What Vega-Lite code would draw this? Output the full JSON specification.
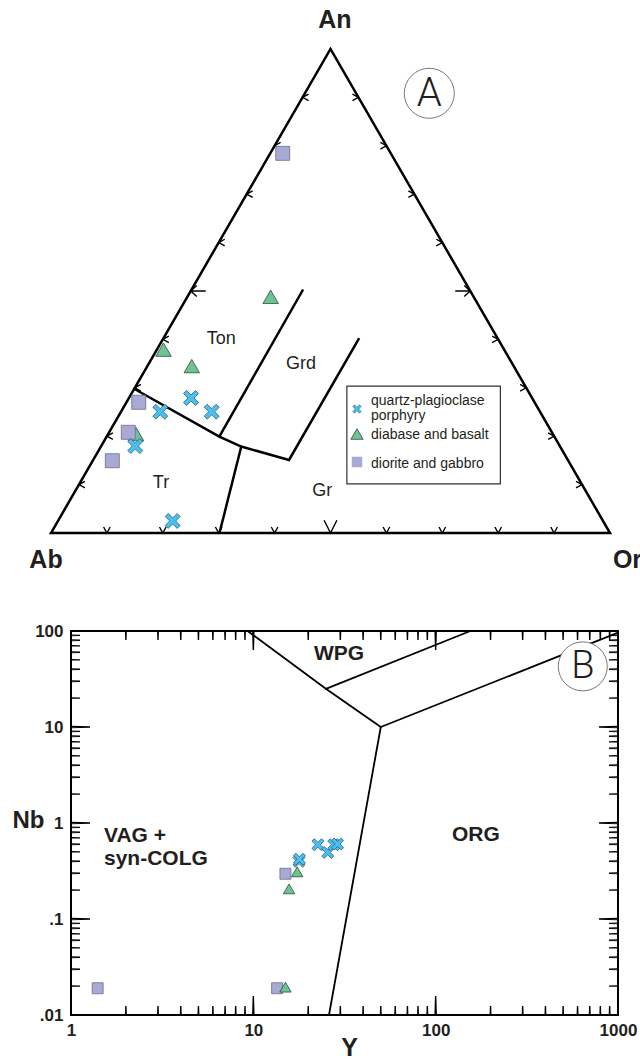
{
  "$schema": "https://vega.github.io/schema/vega-lite/v6.json",
  "autosize": {"type": "pad"},
  "padding": {"left": 11, "top": 0, "right": 0, "bottom": 0},
  "bounds": "flush",
  "spacing": 56,
  "config": {"font": "Liberation Sans", "view": {"stroke": null}},
  "datasets": {
    "frame_A": [{"x": 0, "y": 0, "i": 1}, {"x": 0.5, "y": 0.866, "i": 2}, {"x": 1, "y": 0, "i": 3}],
    "bnd_A": [
      {"path": "a", "i": 1, "x": 0.1494, "y": 0.2576}, {"path": "a", "i": 2, "x": 0.3011, "y": 0.1726},
      {"path": "a", "i": 3, "x": 0.3404, "y": 0.1547}, {"path": "a", "i": 4, "x": 0.4258, "y": 0.1306},
      {"path": "a", "i": 5, "x": 0.5513, "y": 0.3488},
      {"path": "b", "i": 1, "x": 0.3011, "y": 0.1726}, {"path": "b", "i": 2, "x": 0.451, "y": 0.4356},
      {"path": "c", "i": 1, "x": 0.3404, "y": 0.1547}, {"path": "c", "i": 2, "x": 0.3014, "y": 0}
    ],
    "ticks_A": [
      {"x": 0.1, "y": 0, "edge": "base", "major": false}, {"x": 0.2, "y": 0, "edge": "base", "major": false},
      {"x": 0.3, "y": 0, "edge": "base", "major": false}, {"x": 0.4, "y": 0, "edge": "base", "major": false},
      {"x": 0.5, "y": 0, "edge": "base", "major": true}, {"x": 0.6, "y": 0, "edge": "base", "major": false},
      {"x": 0.7, "y": 0, "edge": "base", "major": false}, {"x": 0.8, "y": 0, "edge": "base", "major": false},
      {"x": 0.9, "y": 0, "edge": "base", "major": false},
      {"x": 0.05, "y": 0.0866, "edge": "left", "major": false}, {"x": 0.1, "y": 0.1732, "edge": "left", "major": false},
      {"x": 0.15, "y": 0.2598, "edge": "left", "major": false}, {"x": 0.2, "y": 0.3464, "edge": "left", "major": false},
      {"x": 0.25, "y": 0.433, "edge": "left", "major": true}, {"x": 0.3, "y": 0.5196, "edge": "left", "major": false},
      {"x": 0.35, "y": 0.6062, "edge": "left", "major": false}, {"x": 0.4, "y": 0.6928, "edge": "left", "major": false},
      {"x": 0.45, "y": 0.7794, "edge": "left", "major": false},
      {"x": 0.95, "y": 0.0866, "edge": "right", "major": false}, {"x": 0.9, "y": 0.1732, "edge": "right", "major": false},
      {"x": 0.85, "y": 0.2598, "edge": "right", "major": false}, {"x": 0.8, "y": 0.3464, "edge": "right", "major": false},
      {"x": 0.75, "y": 0.433, "edge": "right", "major": true}, {"x": 0.7, "y": 0.5196, "edge": "right", "major": false},
      {"x": 0.65, "y": 0.6062, "edge": "right", "major": false}, {"x": 0.6, "y": 0.6928, "edge": "right", "major": false},
      {"x": 0.55, "y": 0.7794, "edge": "right", "major": false}
    ],
    "pts_A": [
      {"x": 0.393, "y": 0.4225, "rock": "diabase and basalt"}, {"x": 0.2013, "y": 0.328, "rock": "diabase and basalt"},
      {"x": 0.2518, "y": 0.2986, "rock": "diabase and basalt"}, {"x": 0.152, "y": 0.177, "rock": "diabase and basalt"},
      {"x": 0.4145, "y": 0.6792, "rock": "diorite and gabbro"}, {"x": 0.1569, "y": 0.2338, "rock": "diorite and gabbro"},
      {"x": 0.1383, "y": 0.1801, "rock": "diorite and gabbro"}, {"x": 0.1097, "y": 0.1293, "rock": "diorite and gabbro"},
      {"x": 0.2504, "y": 0.2415, "rock": "quartz-plagioclase porphyry"}, {"x": 0.1955, "y": 0.217, "rock": "quartz-plagioclase porphyry"},
      {"x": 0.2875, "y": 0.217, "rock": "quartz-plagioclase porphyry"}, {"x": 0.1508, "y": 0.1556, "rock": "quartz-plagioclase porphyry"},
      {"x": 0.2177, "y": 0.0215, "rock": "quartz-plagioclase porphyry"}
    ],
    "leg_box": [{"x": 0.5293, "y": 0.2626, "x2": 0.8039, "y2": 0.0878}],
    "leg_sym": [
      {"x": 0.5474, "y": 0.2218, "rock": "quartz-plagioclase porphyry"},
      {"x": 0.5474, "y": 0.1771, "rock": "diabase and basalt"},
      {"x": 0.5474, "y": 0.127, "rock": "diorite and gabbro"}
    ],
    "leg_txt": [
      {"x": 0.5725, "y": 0.237, "t": "quartz-plagioclase"}, {"x": 0.5725, "y": 0.2102, "t": "porphyry"},
      {"x": 0.5725, "y": 0.1753, "t": "diabase and basalt"}, {"x": 0.5725, "y": 0.1243, "t": "diorite and gabbro"}
    ],
    "reg_A": [
      {"x": 0.3045, "y": 0.3474, "t": "Ton"}, {"x": 0.4472, "y": 0.3018, "t": "Grd"},
      {"x": 0.1968, "y": 0.09, "t": "Tr"}, {"x": 0.4853, "y": 0.0748, "t": "Gr"}
    ],
    "vert_A": [
      {"x": 0.508, "y": 0.9034, "t": "An"}, {"x": -0.0089, "y": -0.0626, "t": "Ab"}, {"x": 1.0313, "y": -0.0626, "t": "Or"}
    ],
    "circ_A": [{"x": 0.6767, "y": 0.7866, "t": "A"}],
    "bnd_B": [
      {"x": 9.3, "y": 100, "x2": 25, "y2": 25}, {"x": 25, "y": 25, "x2": 50, "y2": 10},
      {"x": 25, "y": 25, "x2": 155, "y2": 100}, {"x": 50, "y": 10, "x2": 1000, "y2": 96},
      {"x": 50, "y": 10, "x2": 26, "y2": 0.01}
    ],
    "pts_B": [
      {"Y": 1.4, "Nb": 0.019, "rock": "diorite and gabbro"}, {"Y": 13.5, "Nb": 0.019, "rock": "diorite and gabbro"},
      {"Y": 15.0, "Nb": 0.296, "rock": "diorite and gabbro"},
      {"Y": 15.0, "Nb": 0.0195, "rock": "diabase and basalt"}, {"Y": 15.7, "Nb": 0.206, "rock": "diabase and basalt"},
      {"Y": 17.4, "Nb": 0.31, "rock": "diabase and basalt"},
      {"Y": 17.8, "Nb": 0.4, "rock": "quartz-plagioclase porphyry"}, {"Y": 17.9, "Nb": 0.42, "rock": "quartz-plagioclase porphyry"},
      {"Y": 22.6, "Nb": 0.594, "rock": "quartz-plagioclase porphyry"}, {"Y": 25.6, "Nb": 0.494, "rock": "quartz-plagioclase porphyry"},
      {"Y": 27.6, "Nb": 0.594, "rock": "quartz-plagioclase porphyry"}, {"Y": 29.0, "Nb": 0.604, "rock": "quartz-plagioclase porphyry"}
    ],
    "txtc_B": [{"Y": 29.5, "Nb": 50.2, "t": "WPG"}, {"Y": 166, "Nb": 0.648, "t": "ORG"}],
    "txtl_B": [{"Y": 1.517, "Nb": 0.638, "t": "VAG +"}, {"Y": 1.517, "Nb": 0.369, "t": "syn-COLG"}],
    "circ_B": [{"Y": 641, "Nb": 42.8, "t": "B"}]
  },
  "vconcat": [
    {
      "width": 547,
      "height": 575,
      "layer": [
        {
          "data": {"name": "frame_A"},
          "mark": {"type": "line", "interpolate": "linear-closed", "stroke": "black", "strokeWidth": 2.5, "strokeJoin": "miter"},
          "encoding": {
            "x": {"field": "x", "type": "quantitative", "scale": {"domain": [0.03578, 1.01431], "nice": false, "zero": false}, "axis": null},
            "y": {"field": "y", "type": "quantitative", "scale": {"domain": [-0.07513, 0.95349], "nice": false, "zero": false}, "axis": null},
            "order": {"field": "i"}
          }
        },
        {
          "data": {"name": "bnd_A"},
          "mark": {"type": "line", "stroke": "black", "strokeWidth": 2.5, "strokeJoin": "miter"},
          "encoding": {
            "x": {"field": "x", "type": "quantitative", "scale": {"domain": [0.03578, 1.01431], "nice": false, "zero": false}, "axis": null},
            "y": {"field": "y", "type": "quantitative", "scale": {"domain": [-0.07513, 0.95349], "nice": false, "zero": false}, "axis": null},
            "detail": {"field": "path"},
            "order": {"field": "i"}
          }
        },
        {
          "data": {"name": "ticks_A"},
          "transform": [{"filter": "datum.edge == 'base' && !datum.major"}],
          "mark": {"type": "point", "shape": "M-0.55,-1L0,0L0.55,-1", "size": 144, "angle": 0, "filled": false, "stroke": "black", "strokeWidth": 1.4, "opacity": 1},
          "encoding": {
            "x": {"field": "x", "type": "quantitative", "scale": {"domain": [0.03578, 1.01431], "nice": false, "zero": false}, "axis": null},
            "y": {"field": "y", "type": "quantitative", "scale": {"domain": [-0.07513, 0.95349], "nice": false, "zero": false}, "axis": null}
          }
        },
        {
          "data": {"name": "ticks_A"},
          "transform": [{"filter": "datum.edge == 'base' && datum.major"}],
          "mark": {"type": "point", "shape": "M-0.5,-1L0,0L0.5,-1", "size": 655, "angle": 0, "filled": false, "stroke": "black", "strokeWidth": 1.4, "opacity": 1},
          "encoding": {
            "x": {"field": "x", "type": "quantitative", "scale": {"domain": [0.03578, 1.01431], "nice": false, "zero": false}, "axis": null},
            "y": {"field": "y", "type": "quantitative", "scale": {"domain": [-0.07513, 0.95349], "nice": false, "zero": false}, "axis": null}
          }
        },
        {
          "data": {"name": "ticks_A"},
          "transform": [{"filter": "datum.edge == 'left' && !datum.major"}],
          "mark": {"type": "point", "shape": "M-0.55,-1L0,0L0.55,-1", "size": 144, "angle": 90, "filled": false, "stroke": "black", "strokeWidth": 1.4, "opacity": 1},
          "encoding": {
            "x": {"field": "x", "type": "quantitative", "scale": {"domain": [0.03578, 1.01431], "nice": false, "zero": false}, "axis": null},
            "y": {"field": "y", "type": "quantitative", "scale": {"domain": [-0.07513, 0.95349], "nice": false, "zero": false}, "axis": null}
          }
        },
        {
          "data": {"name": "ticks_A"},
          "transform": [{"filter": "datum.edge == 'left' && datum.major"}],
          "mark": {"type": "point", "shape": "M-0.37,-0.4L0,0L0.37,-0.4M0,0L0,-1", "size": 900, "angle": 90, "filled": false, "stroke": "black", "strokeWidth": 1.4, "opacity": 1},
          "encoding": {
            "x": {"field": "x", "type": "quantitative", "scale": {"domain": [0.03578, 1.01431], "nice": false, "zero": false}, "axis": null},
            "y": {"field": "y", "type": "quantitative", "scale": {"domain": [-0.07513, 0.95349], "nice": false, "zero": false}, "axis": null}
          }
        },
        {
          "data": {"name": "ticks_A"},
          "transform": [{"filter": "datum.edge == 'right' && !datum.major"}],
          "mark": {"type": "point", "shape": "M-0.55,-1L0,0L0.55,-1", "size": 144, "angle": 270, "filled": false, "stroke": "black", "strokeWidth": 1.4, "opacity": 1},
          "encoding": {
            "x": {"field": "x", "type": "quantitative", "scale": {"domain": [0.03578, 1.01431], "nice": false, "zero": false}, "axis": null},
            "y": {"field": "y", "type": "quantitative", "scale": {"domain": [-0.07513, 0.95349], "nice": false, "zero": false}, "axis": null}
          }
        },
        {
          "data": {"name": "ticks_A"},
          "transform": [{"filter": "datum.edge == 'right' && datum.major"}],
          "mark": {"type": "point", "shape": "M-0.37,-0.4L0,0L0.37,-0.4M0,0L0,-1", "size": 900, "angle": 270, "filled": false, "stroke": "black", "strokeWidth": 1.4, "opacity": 1},
          "encoding": {
            "x": {"field": "x", "type": "quantitative", "scale": {"domain": [0.03578, 1.01431], "nice": false, "zero": false}, "axis": null},
            "y": {"field": "y", "type": "quantitative", "scale": {"domain": [-0.07513, 0.95349], "nice": false, "zero": false}, "axis": null}
          }
        },
        {
          "data": {"name": "reg_A"},
          "mark": {"type": "text", "fontSize": 18, "align": "center", "baseline": "middle", "color": "#231f20"},
          "encoding": {
            "x": {"field": "x", "type": "quantitative", "scale": {"domain": [0.03578, 1.01431], "nice": false, "zero": false}, "axis": null},
            "y": {"field": "y", "type": "quantitative", "scale": {"domain": [-0.07513, 0.95349], "nice": false, "zero": false}, "axis": null},
            "text": {"field": "t"}
          }
        },
        {
          "data": {"name": "vert_A"},
          "mark": {"type": "text", "fontSize": 25, "fontWeight": "bold", "align": "center", "baseline": "alphabetic", "color": "#231f20"},
          "encoding": {
            "x": {"field": "x", "type": "quantitative", "scale": {"domain": [0.03578, 1.01431], "nice": false, "zero": false}, "axis": null},
            "y": {"field": "y", "type": "quantitative", "scale": {"domain": [-0.07513, 0.95349], "nice": false, "zero": false}, "axis": null},
            "text": {"field": "t"}
          }
        },
        {
          "data": {"name": "circ_A"},
          "mark": {"type": "point", "shape": "circle", "size": 2500, "filled": true, "fill": "white", "stroke": "#555555", "strokeWidth": 0.8, "opacity": 1},
          "encoding": {
            "x": {"field": "x", "type": "quantitative", "scale": {"domain": [0.03578, 1.01431], "nice": false, "zero": false}, "axis": null},
            "y": {"field": "y", "type": "quantitative", "scale": {"domain": [-0.07513, 0.95349], "nice": false, "zero": false}, "axis": null}
          }
        },
        {
          "data": {"name": "circ_A"},
          "mark": {"type": "text", "font": "Roboto", "fontWeight": 300, "fontSize": 40, "align": "center", "baseline": "middle", "dy": 1, "color": "#231f20"},
          "encoding": {
            "x": {"field": "x", "type": "quantitative", "scale": {"domain": [0.03578, 1.01431], "nice": false, "zero": false}, "axis": null},
            "y": {"field": "y", "type": "quantitative", "scale": {"domain": [-0.07513, 0.95349], "nice": false, "zero": false}, "axis": null},
            "text": {"field": "t"}
          }
        },
        {
          "data": {"name": "pts_A"},
          "transform": [{"filter": "datum.rock == 'diabase and basalt'"}],
          "mark": {"type": "point", "shape": "triangle-up", "size": 240, "filled": true, "fill": "#6dc393", "stroke": "#2e4d3a", "strokeWidth": 0.8, "opacity": 1},
          "encoding": {
            "x": {"field": "x", "type": "quantitative", "scale": {"domain": [0.03578, 1.01431], "nice": false, "zero": false}, "axis": null},
            "y": {"field": "y", "type": "quantitative", "scale": {"domain": [-0.07513, 0.95349], "nice": false, "zero": false}, "axis": null}
          }
        },
        {
          "data": {"name": "pts_A"},
          "transform": [{"filter": "datum.rock == 'diorite and gabbro'"}],
          "mark": {"type": "point", "shape": "square", "size": 196, "filled": true, "fill": "#a9a9d5", "stroke": "#6d6d8a", "strokeWidth": 0.8, "opacity": 1},
          "encoding": {
            "x": {"field": "x", "type": "quantitative", "scale": {"domain": [0.03578, 1.01431], "nice": false, "zero": false}, "axis": null},
            "y": {"field": "y", "type": "quantitative", "scale": {"domain": [-0.07513, 0.95349], "nice": false, "zero": false}, "axis": null}
          }
        },
        {
          "data": {"name": "pts_A"},
          "transform": [{"filter": "datum.rock == 'quartz-plagioclase porphyry'"}],
          "mark": {"type": "point", "shape": "M-1,-0.6L-0.6,-1L0,-0.4L0.6,-1L1,-0.6L0.4,0L1,0.6L0.6,1L0,0.4L-0.6,1L-1,0.6L-0.4,0Z", "size": 225, "filled": true, "fill": "#4dbfec", "stroke": "#2b5f80", "strokeWidth": 0.8, "opacity": 1},
          "encoding": {
            "x": {"field": "x", "type": "quantitative", "scale": {"domain": [0.03578, 1.01431], "nice": false, "zero": false}, "axis": null},
            "y": {"field": "y", "type": "quantitative", "scale": {"domain": [-0.07513, 0.95349], "nice": false, "zero": false}, "axis": null}
          }
        },
        {
          "data": {"name": "leg_box"},
          "mark": {"type": "rect", "fill": "white", "stroke": "#333333", "strokeWidth": 1.2},
          "encoding": {
            "x": {"field": "x", "type": "quantitative", "scale": {"domain": [0.03578, 1.01431], "nice": false, "zero": false}, "axis": null},
            "y": {"field": "y", "type": "quantitative", "scale": {"domain": [-0.07513, 0.95349], "nice": false, "zero": false}, "axis": null},
            "x2": {"field": "x2"},
            "y2": {"field": "y2"}
          }
        },
        {
          "data": {"name": "leg_sym"},
          "transform": [{"filter": "datum.rock == 'quartz-plagioclase porphyry'"}],
          "mark": {"type": "point", "shape": "M-1,-0.6L-0.6,-1L0,-0.4L0.6,-1L1,-0.6L0.4,0L1,0.6L0.6,1L0,0.4L-0.6,1L-1,0.6L-0.4,0Z", "size": 70, "filled": true, "fill": "#4dbfec", "stroke": "#2b5f80", "strokeWidth": 0.6, "opacity": 1},
          "encoding": {
            "x": {"field": "x", "type": "quantitative", "scale": {"domain": [0.03578, 1.01431], "nice": false, "zero": false}, "axis": null},
            "y": {"field": "y", "type": "quantitative", "scale": {"domain": [-0.07513, 0.95349], "nice": false, "zero": false}, "axis": null}
          }
        },
        {
          "data": {"name": "leg_sym"},
          "transform": [{"filter": "datum.rock == 'diabase and basalt'"}],
          "mark": {"type": "point", "shape": "triangle-up", "size": 150, "filled": true, "fill": "#6dc393", "stroke": "#2e4d3a", "strokeWidth": 0.8, "opacity": 1},
          "encoding": {
            "x": {"field": "x", "type": "quantitative", "scale": {"domain": [0.03578, 1.01431], "nice": false, "zero": false}, "axis": null},
            "y": {"field": "y", "type": "quantitative", "scale": {"domain": [-0.07513, 0.95349], "nice": false, "zero": false}, "axis": null}
          }
        },
        {
          "data": {"name": "leg_sym"},
          "transform": [{"filter": "datum.rock == 'diorite and gabbro'"}],
          "mark": {"type": "point", "shape": "square", "size": 100, "filled": true, "fill": "#a9a9d5", "stroke": "#a9a9d5", "strokeWidth": 0.5, "opacity": 1},
          "encoding": {
            "x": {"field": "x", "type": "quantitative", "scale": {"domain": [0.03578, 1.01431], "nice": false, "zero": false}, "axis": null},
            "y": {"field": "y", "type": "quantitative", "scale": {"domain": [-0.07513, 0.95349], "nice": false, "zero": false}, "axis": null}
          }
        },
        {
          "data": {"name": "leg_txt"},
          "mark": {"type": "text", "fontSize": 14, "align": "left", "baseline": "middle", "color": "#231f20"},
          "encoding": {
            "x": {"field": "x", "type": "quantitative", "scale": {"domain": [0.03578, 1.01431], "nice": false, "zero": false}, "axis": null},
            "y": {"field": "y", "type": "quantitative", "scale": {"domain": [-0.07513, 0.95349], "nice": false, "zero": false}, "axis": null},
            "text": {"field": "t"}
          }
        }
      ]
    },
    {
      "width": 547,
      "height": 384,
      "view": {"stroke": "black", "strokeWidth": 2},
      "resolve": {"axis": {"x": "independent", "y": "independent"}},
      "layer": [
        {
          "data": {"name": "bnd_B"},
          "mark": {"type": "rule", "stroke": "black", "strokeWidth": 1.8, "strokeCap": "round"},
          "encoding": {
            "x": {"field": "x", "type": "quantitative", "scale": {"type": "log", "domain": [1, 1000], "nice": false}, "axis": null},
            "y": {"field": "y", "type": "quantitative", "scale": {"type": "log", "domain": [0.01, 100], "nice": false}, "axis": null},
            "x2": {"field": "x2"},
            "y2": {"field": "y2"}
          }
        },
        {
          "data": {"name": "pts_B"},
          "transform": [{"filter": "datum.rock == 'diorite and gabbro'"}],
          "mark": {"type": "point", "shape": "square", "size": 121, "filled": true, "fill": "#a9a9d5", "stroke": "#6d6d8a", "strokeWidth": 0.8, "opacity": 1},
          "encoding": {
            "x": {"field": "Y", "type": "quantitative", "scale": {"type": "log", "domain": [1, 1000], "nice": false}, "axis": null},
            "y": {"field": "Nb", "type": "quantitative", "scale": {"type": "log", "domain": [0.01, 100], "nice": false}, "axis": null}
          }
        },
        {
          "data": {"name": "pts_B"},
          "transform": [{"filter": "datum.rock == 'diabase and basalt'"}],
          "mark": {"type": "point", "shape": "triangle-up", "size": 130, "filled": true, "fill": "#6dc393", "stroke": "#2e4d3a", "strokeWidth": 0.8, "opacity": 1},
          "encoding": {
            "x": {"field": "Y", "type": "quantitative", "scale": {"type": "log", "domain": [1, 1000], "nice": false}, "axis": null},
            "y": {"field": "Nb", "type": "quantitative", "scale": {"type": "log", "domain": [0.01, 100], "nice": false}, "axis": null}
          }
        },
        {
          "data": {"name": "pts_B"},
          "transform": [{"filter": "datum.rock == 'quartz-plagioclase porphyry'"}],
          "mark": {"type": "point", "shape": "M-1,-0.6L-0.6,-1L0,-0.4L0.6,-1L1,-0.6L0.4,0L1,0.6L0.6,1L0,0.4L-0.6,1L-1,0.6L-0.4,0Z", "size": 144, "filled": true, "fill": "#4dbfec", "stroke": "#2b5f80", "strokeWidth": 0.8, "opacity": 1},
          "encoding": {
            "x": {"field": "Y", "type": "quantitative", "scale": {"type": "log", "domain": [1, 1000], "nice": false},
              "axis": {"orient": "bottom", "domain": false, "grid": false, "ticks": false,
                "values": [1, 10, 100, 1000],
                "labelExpr": "datum.value == 1 ? '1' : datum.value == 10 ? '10' : datum.value == 100 ? '100' : '1000'",
                "labelOverlap": false, "labelFlush": false,
                "labelFont": "Liberation Sans", "labelFontWeight": "bold", "labelFontSize": 17, "labelColor": "#231f20", "labelPadding": 7,
                "title": "Y", "titleFont": "Liberation Sans", "titleFontSize": 25, "titleFontWeight": "bold", "titleColor": "#231f20",
                "titleX": 278, "titleY": 40, "titleBaseline": "alphabetic", "titleAlign": "center"}},
            "y": {"field": "Nb", "type": "quantitative", "scale": {"type": "log", "domain": [0.01, 100], "nice": false},
              "axis": {"orient": "left", "domain": false, "grid": false, "ticks": false,
                "values": [0.01, 0.1, 1, 10, 100],
                "labelExpr": "datum.value == 100 ? '100' : datum.value == 10 ? '10' : datum.value == 1 ? '1' : datum.value == 0.1 ? '.1' : '.01'",
                "labelOverlap": false, "labelFlush": false,
                "labelFont": "Liberation Sans", "labelFontWeight": "bold", "labelFontSize": 17, "labelColor": "#231f20", "labelPadding": 8,
                "title": "Nb", "titleFont": "Liberation Sans", "titleFontSize": 24, "titleFontWeight": "bold", "titleColor": "#231f20",
                "titleAngle": 0, "titleAlign": "right", "titleBaseline": "alphabetic", "titleX": -27, "titleY": 196}}
          }
        },
        {
          "data": {"name": "txtc_B"},
          "mark": {"type": "text", "fontSize": 21, "fontWeight": "bold", "align": "center", "baseline": "alphabetic", "color": "#231f20"},
          "encoding": {
            "x": {"field": "Y", "type": "quantitative", "scale": {"type": "log", "domain": [1, 1000], "nice": false}, "axis": null},
            "y": {"field": "Nb", "type": "quantitative", "scale": {"type": "log", "domain": [0.01, 100], "nice": false}, "axis": null},
            "text": {"field": "t"}
          }
        },
        {
          "data": {"name": "txtl_B"},
          "mark": {"type": "text", "fontSize": 21, "fontWeight": "bold", "align": "left", "baseline": "alphabetic", "color": "#231f20"},
          "encoding": {
            "x": {"field": "Y", "type": "quantitative", "scale": {"type": "log", "domain": [1, 1000], "nice": false}, "axis": null},
            "y": {"field": "Nb", "type": "quantitative", "scale": {"type": "log", "domain": [0.01, 100], "nice": false}, "axis": null},
            "text": {"field": "t"}
          }
        },
        {
          "data": {"name": "circ_B"},
          "mark": {"type": "point", "shape": "circle", "size": 2400, "filled": true, "fill": "white", "stroke": "#555555", "strokeWidth": 0.8, "opacity": 1},
          "encoding": {
            "x": {"field": "Y", "type": "quantitative", "scale": {"type": "log", "domain": [1, 1000], "nice": false}, "axis": null},
            "y": {"field": "Nb", "type": "quantitative", "scale": {"type": "log", "domain": [0.01, 100], "nice": false}, "axis": null}
          }
        },
        {
          "data": {"name": "circ_B"},
          "mark": {"type": "text", "font": "Roboto", "fontWeight": 300, "fontSize": 38, "align": "center", "baseline": "middle", "dy": 1, "color": "#231f20"},
          "encoding": {
            "x": {"field": "Y", "type": "quantitative", "scale": {"type": "log", "domain": [1, 1000], "nice": false}, "axis": null},
            "y": {"field": "Nb", "type": "quantitative", "scale": {"type": "log", "domain": [0.01, 100], "nice": false}, "axis": null},
            "text": {"field": "t"}
          }
        },
        {
          "data": {"values": [
            {"Y": 2, "Nb": 0.01}, {"Y": 3, "Nb": 0.01}, {"Y": 4, "Nb": 0.01}, {"Y": 5, "Nb": 0.01}, {"Y": 6, "Nb": 0.01},
            {"Y": 7, "Nb": 0.01}, {"Y": 8, "Nb": 0.01}, {"Y": 9, "Nb": 0.01}, {"Y": 20, "Nb": 0.01}, {"Y": 30, "Nb": 0.01},
            {"Y": 40, "Nb": 0.01}, {"Y": 50, "Nb": 0.01}, {"Y": 60, "Nb": 0.01}, {"Y": 70, "Nb": 0.01}, {"Y": 80, "Nb": 0.01},
            {"Y": 90, "Nb": 0.01}, {"Y": 200, "Nb": 0.01}, {"Y": 300, "Nb": 0.01}, {"Y": 400, "Nb": 0.01}, {"Y": 500, "Nb": 0.01},
            {"Y": 600, "Nb": 0.01}, {"Y": 700, "Nb": 0.01}, {"Y": 800, "Nb": 0.01}, {"Y": 900, "Nb": 0.01}
          ]},
          "mark": {"type": "point", "shape": "M-0.03,0L0,-1L0.03,0", "size": 324, "filled": false, "stroke": "black", "strokeWidth": 1.4, "opacity": 1},
          "encoding": {
            "x": {"field": "Y", "type": "quantitative", "scale": {"type": "log", "domain": [1, 1000], "nice": false}, "axis": null},
            "y": {"field": "Nb", "type": "quantitative", "scale": {"type": "log", "domain": [0.01, 100], "nice": false}, "axis": null}
          }
        },
        {
          "data": {"values": [{"Y": 10, "Nb": 0.01}, {"Y": 100, "Nb": 0.01}]},
          "mark": {"type": "point", "shape": "M-0.03,0L0,-1L0.03,0", "size": 1444, "filled": false, "stroke": "black", "strokeWidth": 1.4, "opacity": 1},
          "encoding": {
            "x": {"field": "Y", "type": "quantitative", "scale": {"type": "log", "domain": [1, 1000], "nice": false}, "axis": null},
            "y": {"field": "Nb", "type": "quantitative", "scale": {"type": "log", "domain": [0.01, 100], "nice": false}, "axis": null}
          }
        },
        {
          "data": {"values": [
            {"Y": 2, "Nb": 100}, {"Y": 3, "Nb": 100}, {"Y": 4, "Nb": 100}, {"Y": 5, "Nb": 100}, {"Y": 6, "Nb": 100},
            {"Y": 7, "Nb": 100}, {"Y": 8, "Nb": 100}, {"Y": 9, "Nb": 100}, {"Y": 20, "Nb": 100}, {"Y": 30, "Nb": 100},
            {"Y": 40, "Nb": 100}, {"Y": 50, "Nb": 100}, {"Y": 60, "Nb": 100}, {"Y": 70, "Nb": 100}, {"Y": 80, "Nb": 100},
            {"Y": 90, "Nb": 100}, {"Y": 200, "Nb": 100}, {"Y": 300, "Nb": 100}, {"Y": 400, "Nb": 100}, {"Y": 500, "Nb": 100},
            {"Y": 600, "Nb": 100}, {"Y": 700, "Nb": 100}, {"Y": 800, "Nb": 100}, {"Y": 900, "Nb": 100}
          ]},
          "mark": {"type": "point", "shape": "M-0.03,0L0,1L0.03,0", "size": 324, "filled": false, "stroke": "black", "strokeWidth": 1.4, "opacity": 1},
          "encoding": {
            "x": {"field": "Y", "type": "quantitative", "scale": {"type": "log", "domain": [1, 1000], "nice": false}, "axis": null},
            "y": {"field": "Nb", "type": "quantitative", "scale": {"type": "log", "domain": [0.01, 100], "nice": false}, "axis": null}
          }
        },
        {
          "data": {"values": [{"Y": 10, "Nb": 100}, {"Y": 100, "Nb": 100}]},
          "mark": {"type": "point", "shape": "M-0.03,0L0,1L0.03,0", "size": 1444, "filled": false, "stroke": "black", "strokeWidth": 1.4, "opacity": 1},
          "encoding": {
            "x": {"field": "Y", "type": "quantitative", "scale": {"type": "log", "domain": [1, 1000], "nice": false}, "axis": null},
            "y": {"field": "Nb", "type": "quantitative", "scale": {"type": "log", "domain": [0.01, 100], "nice": false}, "axis": null}
          }
        },
        {
          "data": {"values": [
            {"Y": 1, "Nb": 0.02}, {"Y": 1, "Nb": 0.03}, {"Y": 1, "Nb": 0.04}, {"Y": 1, "Nb": 0.05}, {"Y": 1, "Nb": 0.06},
            {"Y": 1, "Nb": 0.07}, {"Y": 1, "Nb": 0.08}, {"Y": 1, "Nb": 0.09}, {"Y": 1, "Nb": 0.2}, {"Y": 1, "Nb": 0.3},
            {"Y": 1, "Nb": 0.4}, {"Y": 1, "Nb": 0.5}, {"Y": 1, "Nb": 0.6}, {"Y": 1, "Nb": 0.7}, {"Y": 1, "Nb": 0.8},
            {"Y": 1, "Nb": 0.9}, {"Y": 1, "Nb": 2}, {"Y": 1, "Nb": 3}, {"Y": 1, "Nb": 4}, {"Y": 1, "Nb": 5},
            {"Y": 1, "Nb": 6}, {"Y": 1, "Nb": 7}, {"Y": 1, "Nb": 8}, {"Y": 1, "Nb": 9}, {"Y": 1, "Nb": 20},
            {"Y": 1, "Nb": 30}, {"Y": 1, "Nb": 40}, {"Y": 1, "Nb": 50}, {"Y": 1, "Nb": 60}, {"Y": 1, "Nb": 70},
            {"Y": 1, "Nb": 80}, {"Y": 1, "Nb": 90}
          ]},
          "mark": {"type": "point", "shape": "M0,-0.03L1,0L0,0.03", "size": 324, "filled": false, "stroke": "black", "strokeWidth": 1.4, "opacity": 1},
          "encoding": {
            "x": {"field": "Y", "type": "quantitative", "scale": {"type": "log", "domain": [1, 1000], "nice": false}, "axis": null},
            "y": {"field": "Nb", "type": "quantitative", "scale": {"type": "log", "domain": [0.01, 100], "nice": false}, "axis": null}
          }
        },
        {
          "data": {"values": [{"Y": 1, "Nb": 0.1}, {"Y": 1, "Nb": 1}, {"Y": 1, "Nb": 10}]},
          "mark": {"type": "point", "shape": "M0,-0.03L1,0L0,0.03", "size": 1444, "filled": false, "stroke": "black", "strokeWidth": 1.4, "opacity": 1},
          "encoding": {
            "x": {"field": "Y", "type": "quantitative", "scale": {"type": "log", "domain": [1, 1000], "nice": false}, "axis": null},
            "y": {"field": "Nb", "type": "quantitative", "scale": {"type": "log", "domain": [0.01, 100], "nice": false}, "axis": null}
          }
        },
        {
          "data": {"values": [
            {"Y": 1000, "Nb": 0.02}, {"Y": 1000, "Nb": 0.03}, {"Y": 1000, "Nb": 0.04}, {"Y": 1000, "Nb": 0.05}, {"Y": 1000, "Nb": 0.06},
            {"Y": 1000, "Nb": 0.07}, {"Y": 1000, "Nb": 0.08}, {"Y": 1000, "Nb": 0.09}, {"Y": 1000, "Nb": 0.2}, {"Y": 1000, "Nb": 0.3},
            {"Y": 1000, "Nb": 0.4}, {"Y": 1000, "Nb": 0.5}, {"Y": 1000, "Nb": 0.6}, {"Y": 1000, "Nb": 0.7}, {"Y": 1000, "Nb": 0.8},
            {"Y": 1000, "Nb": 0.9}, {"Y": 1000, "Nb": 2}, {"Y": 1000, "Nb": 3}, {"Y": 1000, "Nb": 4}, {"Y": 1000, "Nb": 5},
            {"Y": 1000, "Nb": 6}, {"Y": 1000, "Nb": 7}, {"Y": 1000, "Nb": 8}, {"Y": 1000, "Nb": 9}, {"Y": 1000, "Nb": 20},
            {"Y": 1000, "Nb": 30}, {"Y": 1000, "Nb": 40}, {"Y": 1000, "Nb": 50}, {"Y": 1000, "Nb": 60}, {"Y": 1000, "Nb": 70},
            {"Y": 1000, "Nb": 80}, {"Y": 1000, "Nb": 90}
          ]},
          "mark": {"type": "point", "shape": "M0,-0.03L-1,0L0,0.03", "size": 324, "filled": false, "stroke": "black", "strokeWidth": 1.4, "opacity": 1},
          "encoding": {
            "x": {"field": "Y", "type": "quantitative", "scale": {"type": "log", "domain": [1, 1000], "nice": false}, "axis": null},
            "y": {"field": "Nb", "type": "quantitative", "scale": {"type": "log", "domain": [0.01, 100], "nice": false}, "axis": null}
          }
        },
        {
          "data": {"values": [{"Y": 1000, "Nb": 0.1}, {"Y": 1000, "Nb": 1}, {"Y": 1000, "Nb": 10}]},
          "mark": {"type": "point", "shape": "M0,-0.03L-1,0L0,0.03", "size": 1444, "filled": false, "stroke": "black", "strokeWidth": 1.4, "opacity": 1},
          "encoding": {
            "x": {"field": "Y", "type": "quantitative", "scale": {"type": "log", "domain": [1, 1000], "nice": false}, "axis": null},
            "y": {"field": "Nb", "type": "quantitative", "scale": {"type": "log", "domain": [0.01, 100], "nice": false}, "axis": null}
          }
        }
      ]
    }
  ]
}
